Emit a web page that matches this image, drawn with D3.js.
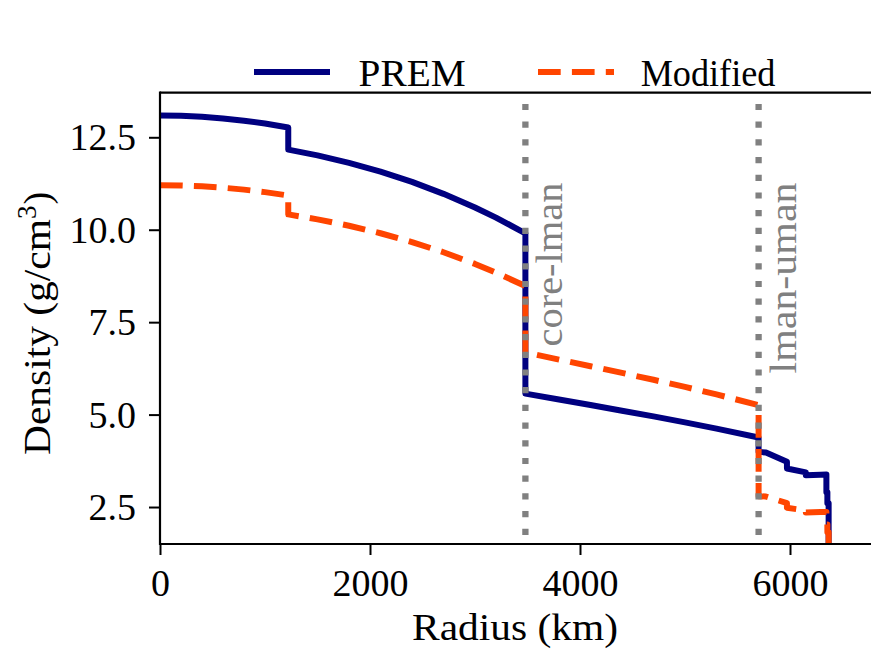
<!DOCTYPE html>
<html>
<head>
<meta charset="utf-8">
<script src="https://cdn.jsdelivr.net/npm/d3@7"></script>
<style>
  html, body { margin: 0; padding: 0; background: #ffffff; }
  svg { display: block; }
  text { font-family: "Liberation Serif", "DejaVu Serif", serif; fill: #000; }
</style>
</head>
<body>
<svg id="chart" width="871" height="655"></svg>
<script>
// ---- data (radius in km, density in g/cm^3) ----
const radius = [0, 200, 400, 600, 800, 1000, 1221.5, 1221.5, 1500, 1800, 2100, 2400, 2700, 3000, 3200, 3480,
  3480, 3800, 4100, 4400, 4700, 5000, 5300, 5701,
  5701, 5771, 5971, 5971, 6151, 6151, 6291, 6346.6, 6346.6, 6356, 6356, 6368, 6368, 6371];
const prem = [13.0885, 13.0798, 13.0537, 13.0101, 12.9491, 12.8708, 12.7636, 12.1663, 12.0099, 11.8090, 11.5712, 11.2930, 10.9709, 10.6015, 10.3273, 9.9034,
  5.5665, 5.4068, 5.2573, 5.1059, 4.9508, 4.7899, 4.6213, 4.3807,
  3.9921, 3.9759, 3.7237, 3.5433, 3.4358, 3.3595, 3.3747, 3.3808, 2.9, 2.9, 2.6, 2.6, 1.02, 1.02];
const modified = [11.2038, 11.1963, 11.1740, 11.1366, 11.0844, 11.0174, 10.9256, 10.4144, 10.2805, 10.1085, 9.9049, 9.6668, 9.3911, 9.0749, 8.8402, 8.4773,
  6.6798, 6.4882, 6.3088, 6.1271, 5.9410, 5.7479, 5.5456, 5.2568,
  2.7945, 2.7831, 2.6066, 2.4803, 2.4051, 2.3517, 2.3623, 2.3666, 2.03, 2.03, 1.82, 1.82, 0.714, 0.714];
const seriesNames = ["PREM", "Modified"];
const seriesColors = ["#000080", "#ff4500"];
const xTicks = [0, 2000, 4000, 6000];
const yTicks = [2.5, 5.0, 7.5, 10.0, 12.5];
const boundaryRadii = [3480, 5701];
const boundaryLabels = ["core-lman", "lman-uman"];
const xLabel = "Radius (km)";
const yLabelMain = "Density (g/cm";
const yLabelSup = "3";
const yLabelEnd = ")";

(function () {
// ---- layout ----
const svg = d3.select("#chart");
const pLeft = 160, pRight = 872, pTop = 92.7, pBottom = 544;
const x = d3.scaleLinear().domain([0, 6781]).range([pLeft, pRight]);
const y = d3.scaleLinear().domain([1.5, 13.706]).range([pBottom, pTop]);

svg.append("defs").append("clipPath").attr("id", "clip")
  .append("rect").attr("x", pLeft).attr("y", pTop).attr("width", pRight - pLeft).attr("height", pBottom - pTop);

const plot = svg.append("g").attr("clip-path", "url(#clip)");
const line = d3.line().x(d => x(d[0])).y(d => y(d[1]));

const premData = radius.map((r, i) => [r, prem[i]]);
const modData = radius.map((r, i) => [r, modified[i]]);

plot.append("path").datum(premData)
  .attr("d", line).attr("fill", "none")
  .attr("stroke", seriesColors[0]).attr("stroke-width", 6)
  .attr("stroke-linejoin", "round");

plot.append("path").datum(modData)
  .attr("d", line).attr("fill", "none")
  .attr("stroke", seriesColors[1]).attr("stroke-width", 6)
  .attr("stroke-dasharray", "22.7 11.2")
  .attr("stroke-linejoin", "round");

// boundary lines
const labelLengths = [164, 191];
boundaryRadii.forEach((r, i) => {
  plot.append("line")
    .attr("x1", x(r)).attr("x2", x(r))
    .attr("y1", pTop).attr("y2", pBottom)
    .attr("stroke", "#808080").attr("stroke-width", 6.3)
    .attr("stroke-dasharray", "6.2 11.5")
    .attr("stroke-dashoffset", 6.5);
  svg.append("text")
    .attr("transform", `translate(${x(r) + 37},${182.5}) rotate(-90)`)
    .attr("text-anchor", "end")
    .attr("font-size", 38)
    .attr("textLength", labelLengths[i])
    .attr("lengthAdjust", "spacingAndGlyphs")
    .style("fill", "#808080")
    .text(boundaryLabels[i]);
});

// axes
const xAxis = d3.axisBottom(x).tickValues(xTicks).tickFormat(d3.format("d"))
  .tickSize(11).tickPadding(14);
const gx = svg.append("g").attr("transform", `translate(0,${pBottom})`).call(xAxis);
gx.select(".domain").remove();
gx.selectAll(".tick line").attr("stroke", "#000").attr("stroke-width", 2);
gx.selectAll(".tick text").attr("font-size", 38)
  .attr("dy", null).attr("y", 51.5);

const yAxis = d3.axisLeft(y).tickValues(yTicks).tickFormat(d3.format(".1f"))
  .tickSize(11).tickPadding(13);
const gy = svg.append("g").attr("transform", `translate(${pLeft},0)`).call(yAxis);
gy.select(".domain").remove();
gy.selectAll(".tick line").attr("stroke", "#000").attr("stroke-width", 2);
gy.selectAll(".tick text").attr("font-size", 38)
  .attr("dy", null).attr("y", 12.5);

// spines
svg.append("line").attr("x1", pLeft).attr("x2", pRight).attr("y1", pBottom).attr("y2", pBottom)
  .attr("stroke", "#000").attr("stroke-width", 2.2);
svg.append("line").attr("x1", pLeft).attr("x2", pRight).attr("y1", pTop).attr("y2", pTop)
  .attr("stroke", "#000").attr("stroke-width", 2.2);
svg.append("line").attr("x1", pLeft).attr("x2", pLeft).attr("y1", pTop - 1.1).attr("y2", pBottom + 1.1)
  .attr("stroke", "#000").attr("stroke-width", 2.2);

// axis labels
svg.append("text").attr("x", 515).attr("y", 640)
  .attr("text-anchor", "middle").attr("font-size", 38)
  .attr("textLength", 206).attr("lengthAdjust", "spacingAndGlyphs")
  .text(xLabel);
const yl = svg.append("text").attr("transform", "translate(50,455) rotate(-90)")
  .attr("text-anchor", "start").attr("font-size", 38);
yl.append("tspan").attr("textLength", 236).attr("lengthAdjust", "spacingAndGlyphs").text(yLabelMain);
yl.append("tspan").attr("font-size", 27).attr("dy", -14).text(yLabelSup);
yl.append("tspan").attr("dy", 14).attr("dx", 1).text(yLabelEnd);

// legend
const legendX = [254, 538];
const legendTextX = [358.6, 640.7];
const legendTextLen = [107, 134.7];
seriesNames.forEach((name, i) => {
  const l = svg.append("line")
    .attr("x1", legendX[i]).attr("x2", legendX[i] + 76)
    .attr("y1", 72).attr("y2", 72)
    .attr("stroke", seriesColors[i]).attr("stroke-width", 6);
  if (i === 1) l.attr("stroke-dasharray", "22.7 11.2");
  svg.append("text").attr("x", legendTextX[i]).attr("y", 86)
    .attr("font-size", 37)
    .attr("textLength", legendTextLen[i]).attr("lengthAdjust", "spacingAndGlyphs")
    .text(name);
});
})();
</script>
</body>
</html>
